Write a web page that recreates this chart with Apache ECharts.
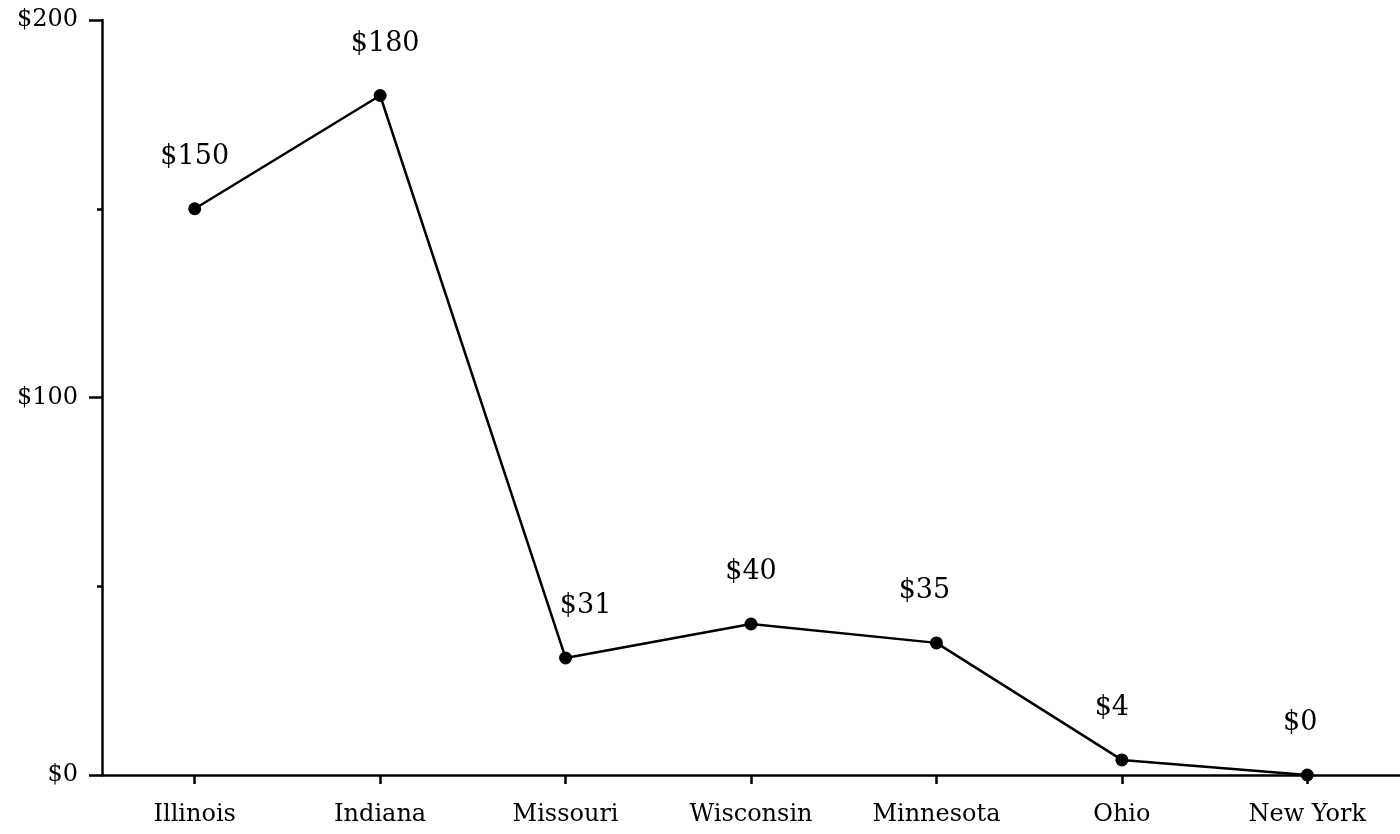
<!DOCTYPE html>
<html>
<head>
<meta charset="utf-8">
<script src="https://cdn.jsdelivr.net/npm/echarts@6/dist/echarts.min.js"></script>
<style>
html,body{margin:0;padding:0;background:#fff;}
#chart{width:1400px;height:834px;}
</style>
</head>
<body>
<div id="chart"></div>
<script>
const categories = ["Illinois", "Indiana", "Missouri", "Wisconsin", "Minnesota", "Ohio", "New York"];
const values = [150, 180, 31, 40, 35, 4, 0];
const yTicks = [0, 100, 200];
// horizontal nudges of the value labels (style only)
const labelNudgeX = [0, 5, 20, 0, -12, -10, -7];

const FONT = "DejaVu Serif";
const seriesData = values.map((v, i) => ({
  value: v,
  label: { offset: [labelNudgeX[i], 0] }
}));

const chart = echarts.init(document.getElementById('chart'));
chart.setOption({
  backgroundColor: '#ffffff',
  animation: false,
  grid: { left: 102, right: 0, top: 20, bottom: 59, containLabel: false },
  xAxis: {
    type: 'category',
    data: categories,
    boundaryGap: true,
    axisLine: { show: true, lineStyle: { color: '#000', width: 2.5 } },
    axisTick: { show: true, alignWithLabel: true, length: 9, lineStyle: { color: '#000', width: 2.5 } },
    axisLabel: { color: '#000', fontFamily: FONT, fontSize: 24, margin: 28 },
    splitLine: { show: false }
  },
  yAxis: {
    type: 'value',
    min: yTicks[0],
    max: yTicks[yTicks.length - 1],
    interval: yTicks[1] - yTicks[0],
    axisLine: { show: true, lineStyle: { color: '#000', width: 2.5 } },
    axisTick: { show: true, length: 13, lineStyle: { color: '#000', width: 2.5 } },
    minorTick: { show: true, splitNumber: 2, length: 5, lineStyle: { color: '#000', width: 2.5 } },
    axisLabel: { color: '#000', fontFamily: FONT, fontSize: 24, margin: 24, formatter: v => '$' + v },
    splitLine: { show: false }
  },
  series: [{
    type: 'line',
    data: seriesData,
    symbol: 'circle',
    symbolSize: 13,
    itemStyle: { color: '#000' },
    lineStyle: { color: '#000', width: 2.5 },
    label: {
      show: true,
      position: 'top',
      distance: 32,
      color: '#000',
      fontFamily: FONT,
      fontSize: 27,
      formatter: p => '$' + p.value
    }
  }]
});
</script>
</body>
</html>
